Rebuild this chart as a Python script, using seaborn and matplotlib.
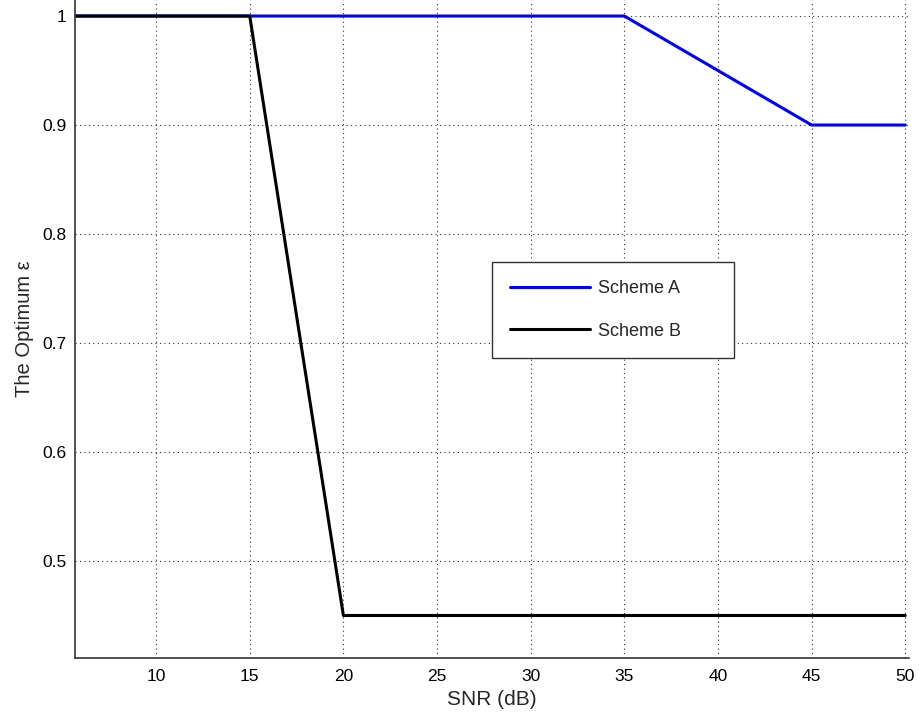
import pandas as pd
import matplotlib
matplotlib.use("Agg")
import matplotlib.pyplot as plt
import matplotlib.ticker as mticker
import seaborn as sns

# Dati
snr = [5, 10, 15, 20, 25, 30, 35, 40, 45, 50]
scheme_a = [1, 1, 1, 1, 1, 1, 1, 0.95, 0.9, 0.9]
scheme_b = [1, 1, 1, 0.45, 0.45, 0.45, 0.45, 0.45, 0.45, 0.45]
serie = ['Scheme A', 'Scheme B']
x_ticks = [10, 15, 20, 25, 30, 35, 40, 45, 50]
y_ticks = [0.5, 0.6, 0.7, 0.8, 0.9, 1.0]

df = pd.DataFrame({
    'SNR': snr * 2,
    'eps': scheme_a + scheme_b,
    'Scheme': [serie[0]] * len(snr) + [serie[1]] * len(snr),
})

sns.set_theme(style="white")
plt.rcParams['font.family'] = ['Liberation Sans', 'DejaVu Sans']

W, H = 919, 721
fig = plt.figure(figsize=(W / 100, H / 100), dpi=100)
ax = fig.add_axes([75 / W, (H - 658) / H, (909 - 75) / W, 658 / H])

sns.lineplot(data=df, x='SNR', y='eps', hue='Scheme',
             palette={'Scheme A': '#0000ff', 'Scheme B': '#000000'},
             linewidth=2.2, ax=ax, legend=True)

ax.set_xlim(5.67, 50.2)
ax.set_ylim(0.411, 1.0147)
ax.set_xticks(x_ticks)
ax.set_yticks(y_ticks)
ax.yaxis.set_major_formatter(mticker.FuncFormatter(lambda v, p: f'{v:g}'))
ax.tick_params(direction='in', length=7, width=1, color='#666666',
               labelsize=12.5, labelcolor='black', pad=6)
ax.tick_params(axis='x', pad=8)
ax.grid(True, linestyle=(0, (1, 3)), color='#333333', linewidth=0.8)

for s in ['top', 'right']:
    ax.spines[s].set_visible(False)
for s in ['left', 'bottom']:
    ax.spines[s].set_color('#333333')
    ax.spines[s].set_linewidth(1.2)

ax.set_xlabel('SNR (dB)', fontsize=15, labelpad=4)
ax.set_ylabel('The Optimum ε', fontsize=14.5, labelpad=6)

leg = ax.legend(loc='upper left',
                bbox_to_anchor=(492 / W, (H - 262) / H),
                bbox_transform=fig.transFigure,
                fontsize=13, frameon=True, fancybox=False,
                borderpad=1.0, labelspacing=1.42, handlelength=4.43,
                handletextpad=0.44, borderaxespad=0)
leg.get_frame().set_edgecolor('#333333')
leg.get_frame().set_linewidth(1.0)
leg.get_frame().set_alpha(1)
for t in leg.get_texts():
    t.set_text(t.get_text() + '       ')

fig.savefig('out.png', dpi=100)
